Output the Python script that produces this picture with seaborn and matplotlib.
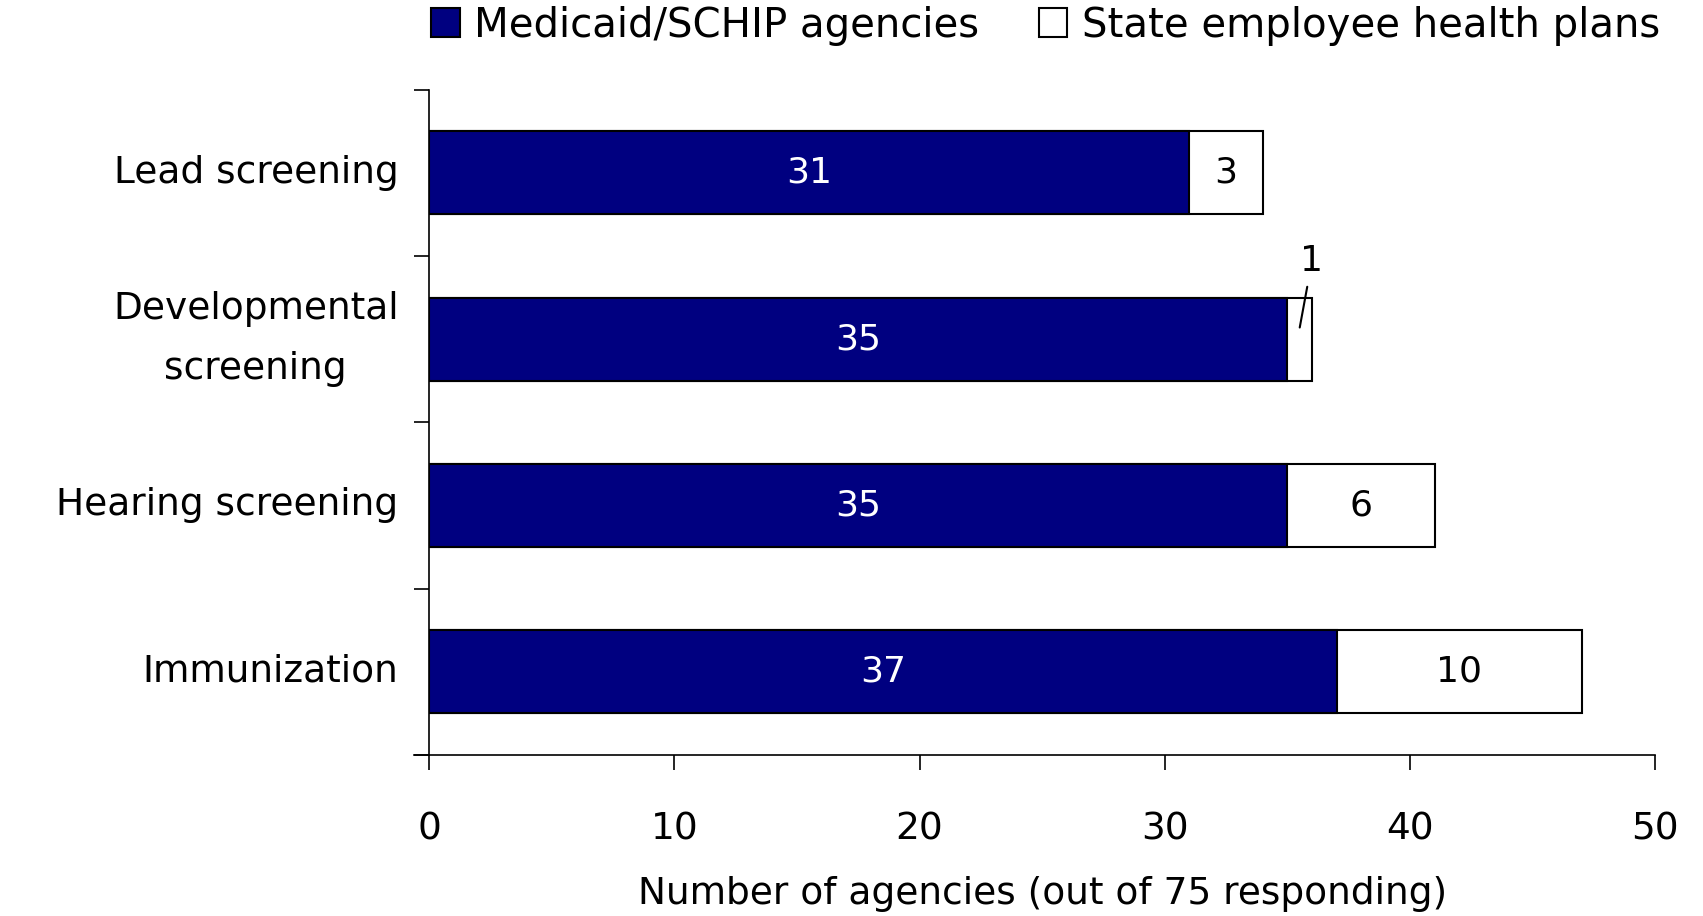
import pandas as pd
import matplotlib.pyplot as plt
import seaborn as sns

categories = ['Lead screening', 'Developmental\nscreening', 'Hearing screening', 'Immunization']
medicaid = [31, 35, 35, 37]
state_plans = [3, 1, 6, 10]
series_names = ['Medicaid/SCHIP agencies', 'State employee health plans']

df = pd.DataFrame({'category': categories, 'medicaid': medicaid, 'state': state_plans})
df['total'] = df['medicaid'] + df['state']

sns.set_style('white')
plt.rcParams['font.family'] = ['DejaVu Sans']
plt.rcParams.update({'text.color': 'black', 'axes.labelcolor': 'black',
                     'xtick.color': 'black', 'ytick.color': 'black',
                     'axes.edgecolor': 'black'})

fig = plt.figure(figsize=(17.03, 9.16), dpi=100)
ax = fig.add_axes([0.252, 0.176, 0.72, 0.726])

# stacked: draw total first (white), then medicaid on top (navy)
sns.barplot(data=df, y='category', x='total', color='white', edgecolor='black',
            linewidth=1.5, width=0.5, orient='h', ax=ax, label=series_names[1], saturation=1)
sns.barplot(data=df, y='category', x='medicaid', color='#000080', edgecolor='black',
            linewidth=1.5, width=0.5, orient='h', ax=ax, label=series_names[0], saturation=1)

for i, row in df.iterrows():
    ax.text(row['medicaid'] / 2, i, str(row['medicaid']), color='white',
            ha='center', va='center', fontsize=26)
    if row['state'] > 1:
        ax.text(row['medicaid'] + row['state'] / 2, i, str(row['state']), color='black',
                ha='center', va='center', fontsize=26)
    else:
        ax.annotate(str(row['state']), xy=(row['medicaid'] + row['state'] / 2, i - 0.07),
                    xytext=(row['medicaid'] + 1.0, i - 0.47), ha='center', va='center',
                    fontsize=26, arrowprops=dict(arrowstyle='-', color='black', lw=1.5,
                                                 shrinkA=4, shrinkB=0))

handles, labels = ax.get_legend_handles_labels()
if ax.get_legend() is not None:
    ax.get_legend().remove()

ax.set_xlim(0, 50)
ax.set_ylim(3.5, -0.5)
ax.set_xticks(range(0, 51, 10))
# ticks sit between the categories, labels are drawn separately
ax.set_yticks([-0.5, 0.5, 1.5, 2.5, 3.5])
ax.set_yticklabels([])
for i, cat in enumerate(categories):
    ax.annotate(cat, xy=(0, i), xycoords=ax.get_yaxis_transform(),
                xytext=(-22, 0), textcoords='offset points', ha='right', va='center',
                multialignment='center', linespacing=1.85, fontsize=27)
ax.tick_params(axis='y', direction='out', length=11, width=1.2, left=True)
ax.tick_params(axis='x', direction='out', length=11, width=1.2, bottom=True, labelsize=27, pad=30)

ax.set_xlabel('Number of agencies (out of 75 responding)', fontsize=27, labelpad=20)
ax.set_ylabel('')

sns.despine(ax=ax, top=True, right=True)
ax.spines['left'].set_linewidth(1.2)
ax.spines['bottom'].set_linewidth(1.2)
ax.spines['bottom'].set_bounds(-0.6, 50)

order = [labels.index(s) for s in series_names]
fig.legend([handles[k] for k in order], [labels[k] for k in order], loc='center',
           bbox_to_anchor=(0.614, 0.972), ncol=2, frameon=False, fontsize=29,
           handlelength=0.7, handleheight=0.7, handletextpad=0.35, columnspacing=1.5,
           borderpad=0, borderaxespad=0)

fig.savefig('out.png', dpi=100)
